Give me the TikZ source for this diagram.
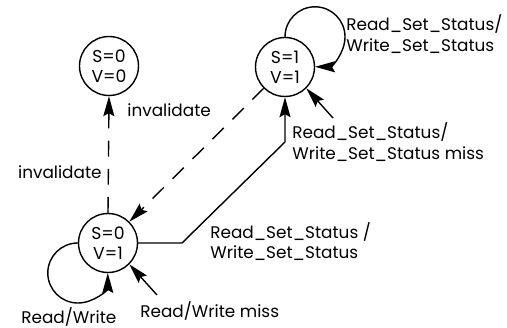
\documentclass[tikz,border=0pt]{standalone}
\usepackage{fontspec}
\setmainfont{Poppins}
\usepackage{tikz}
\usetikzlibrary{arrows.meta,positioning}
\tikzset{
  state/.style={circle, draw, line width=0.8pt, minimum size=11.8mm, inner sep=0pt, align=center, font=\fontsize{9.8}{11.5}\selectfont},
  trans/.style={-{Stealth[length=4mm, width=2.2mm, inset=0.6mm]}, line width=0.8pt},
  inval/.style={trans, dash pattern=on 9pt off 7pt},
  lab/.style={font=\fontsize{9.6}{11.5}\selectfont, align=left, inner sep=0pt},
}

\begin{document}
\begin{tikzpicture}
  \useasboundingbox (0,0) rectangle (10.14,-6.56);
  % the three cache line states
  \node[state] (A) at (2.18,-1.32) {S=0\\V=0};
  \node[state] (B) at (5.70,-1.34) {S=1\\V=1};
  \node[state] (C) at (2.16,-4.86) {S=0\\V=1};
  % bends and loose ends
  \coordinate (cb1) at (3.64,-4.86);
  \coordinate (cb2) at (5.70,-2.84);
  \coordinate (bmiss) at (6.66,-2.36);
  \coordinate (cmiss) at (3.14,-5.90);
  % transitions
  \draw[inval] (C.north) -- (A.south);
  \draw[inval] (B.south west) -- (C.north east);
  \draw[trans] (C.east) -- (cb1) -- (cb2) -- (B.south);
  \draw[trans] (B.north) arc[start angle=180, end angle=-90, radius=0.6];
  \draw[trans] (C.west) arc[start angle=90, end angle=360, radius=0.6];
  \draw[trans] (bmiss) -- (B.south east);
  \draw[trans] (cmiss) -- (C.south east);
  % labels
  \node[lab, anchor=west] (invA) at (2.54,-2.20) {invalidate};
  \node[lab, anchor=east] (invC) at (2.04,-3.44) {invalidate};
  \node[lab, anchor=west] (rssB) at (6.92,-0.68) {Read\_Set\_Status/\\Write\_Set\_Status};
  \node[lab, anchor=west] (rssmiss) at (5.84,-2.84) {Read\_Set\_Status/\\Write\_Set\_Status miss};
  \node[lab, anchor=west] (rssC) at (4.20,-4.83) {Read\_Set\_Status /\\Write\_Set\_Status};
  \node[lab, anchor=west] (rwmiss) at (2.80,-6.22) {Read/Write miss};
  \node[lab, anchor=base west] (rw) at (0.42,-6.47) {Read/Write};
\end{tikzpicture}
\end{document}
